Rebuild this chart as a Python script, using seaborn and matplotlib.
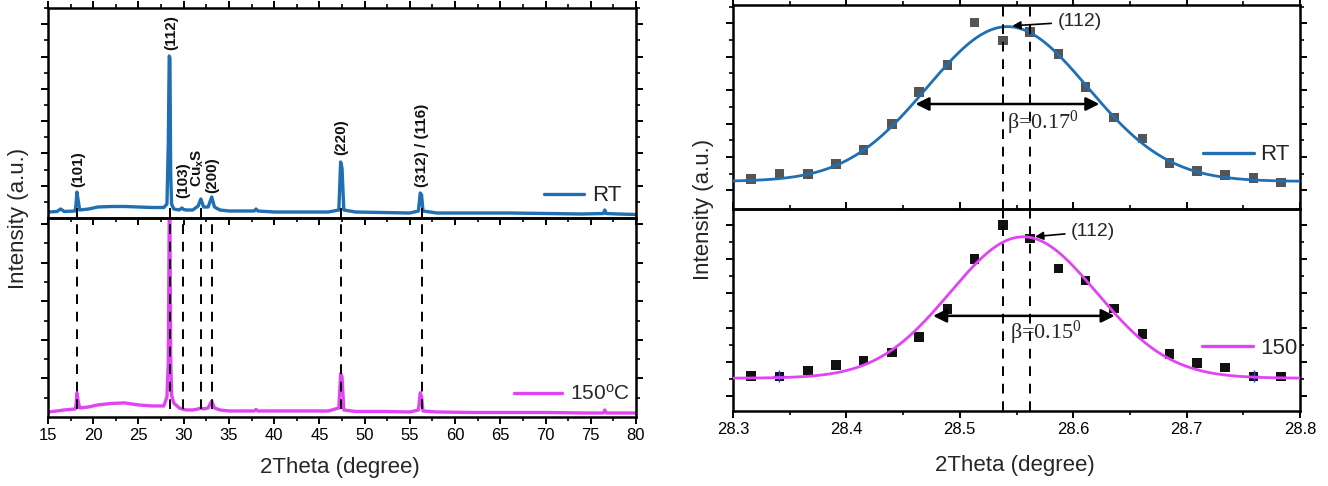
import numpy as np
import pandas as pd
import matplotlib
matplotlib.use("Agg")
import matplotlib.pyplot as plt
from matplotlib.ticker import MultipleLocator, FixedLocator
from matplotlib.lines import Line2D
import seaborn as sns

# ---------------- data: wide-range XRD patterns (left) ----------------
two_theta = [15.0, 16.0, 16.4, 16.8, 18.0, 18.1, 18.2, 18.33, 18.5, 19.5, 20.5, 22.0,
             23.5, 25.0, 26.5, 27.8, 28.15, 28.3, 28.4, 28.48, 28.56, 28.66, 28.9,
             29.5, 29.8, 30.0, 30.3, 31.0, 31.6, 31.9, 32.2, 32.7, 33.1, 33.4, 34.0,
             35.0, 37.8, 38.0, 38.2, 40.0, 43.0, 46.0, 47.15, 47.35, 47.5, 47.7, 49.0,
             52.0, 55.0, 55.95, 56.15, 56.3, 56.45, 58.0, 62.0, 66.0, 70.0, 74.0, 76.4,
             76.55, 76.7, 78.0, 80.0]
rt_intensity = [6.0, 6.5, 9.0, 6.5, 7.0, 14.0, 26.0, 18.0, 8.0, 9.0, 11.0, 11.5,
                11.5, 11.0, 10.5, 10.5, 14.0, 75.0, 162.0, 160.0, 45.0, 14.0, 9.0,
                8.0, 10.0, 8.5, 8.0, 8.0, 12.0, 19.0, 11.0, 11.0, 21.0, 11.0, 8.0,
                7.0, 7.0, 9.0, 7.0, 6.0, 6.0, 6.0, 8.0, 56.0, 50.0, 8.0, 6.0,
                5.5, 5.0, 7.0, 25.0, 23.0, 7.0, 5.0, 5.0, 5.0, 4.5, 4.0, 4.5,
                8.0, 4.5, 4.0, 3.5]
c150_intensity = [5.0, 6.0, 6.5, 7.0, 8.0, 12.0, 24.0, 16.0, 9.0, 10.0, 12.0, 13.5,
                  14.0, 12.0, 11.0, 11.0, 20.0, 55.0, 196.0, 196.0, 60.0, 22.0, 14.0,
                  9.0, 8.0, 7.5, 7.0, 7.0, 8.0, 9.0, 8.0, 9.0, 16.0, 9.0, 7.0,
                  6.0, 6.0, 7.5, 6.0, 6.0, 6.0, 6.0, 9.0, 43.0, 40.0, 7.0, 5.5,
                  5.5, 5.0, 7.0, 24.0, 20.0, 6.0, 5.0, 4.5, 4.5, 4.5, 4.0, 4.0,
                  7.0, 4.0, 4.0, 4.0]
ref_lines = [18.2, 28.5, 29.96, 31.9, 33.17, 47.4, 56.3]
rt_marks = [18.2, 28.5, 31.9, 47.4, 56.3]
peak_labels = ["(101)", "(112)", "(103)", r"Cu$\mathregular{_x}$S", "(200)", "(220)", "(312) / (116)"]
peak_label_x = [18.35, 28.65, 30.0, 31.6, 33.2, 47.4, 56.3]
peak_label_y = [31, 168, 20, 31, 25, 63, 31]

# ---------------- data: (112) peak close-up (right) ----------------
zoom_theta = [28.316, 28.341, 28.366, 28.391, 28.415, 28.440, 28.464, 28.489, 28.513, 28.538,
              28.562, 28.587, 28.611, 28.636, 28.661, 28.685, 28.709, 28.734, 28.759, 28.783]
zoom_rt = [90, 106, 106, 136, 178, 256, 351, 433, 560, 506,
           531, 465, 366, 275, 212, 139, 114, 103, 94, 80]
zoom_150 = [105, 103, 121, 138, 151, 175, 220, 305, 453, 556,
            515, 425, 390, 306, 230, 170, 143, 130, 103, 103]
err_theta = [28.341, 28.759]
err_150 = [103, 103]
# Gaussian fit parameters: centre, FWHM, height, baseline
fit_rt = [28.542, 0.167, 465, 83]
fit_150 = [28.556, 0.152, 422, 98]
fwhm_rt_text = "0.17"
fwhm_150_text = "0.15"
dashed_zoom = [28.538, 28.562]

BLUE = "#1f6fb2"
MAGENTA = "#e143f5"

sns.set_theme(style="ticks")
plt.rcParams["font.family"] = ["Liberation Sans", "DejaVu Sans"]
plt.rcParams["axes.edgecolor"] = "black"
plt.rcParams["xtick.color"] = "black"
plt.rcParams["ytick.color"] = "black"

W, H = 1328, 486
fig = plt.figure(figsize=(W / 100, H / 100), dpi=100)


def rect(x0, y0, x1, y1):
    return [x0 / W, 1 - y1 / H, (x1 - x0) / W, (y1 - y0) / H]


axL1 = fig.add_axes(rect(48, 8, 636, 218))
axL2 = fig.add_axes(rect(48, 218, 636, 417))
axR1 = fig.add_axes(rect(733, 5, 1300, 209))
axR2 = fig.add_axes(rect(733, 209, 1300, 411))

for ax in (axL1, axL2, axR1, axR2):
    ax.patch.set_alpha(0)
    for s in ax.spines.values():
        s.set_linewidth(1.8)
        s.set_color("black")
    ax.tick_params(which="major", length=5, width=1.4, labelsize=12, pad=3)
    ax.tick_params(which="minor", length=3, width=1.2)

# ---- left panels ----
df_wide = pd.DataFrame({"2theta": two_theta, "RT": rt_intensity, "150": c150_intensity})
sns.lineplot(data=df_wide, x="2theta", y="RT", ax=axL1, color=BLUE, lw=2.4,
             estimator=None, legend=False)
sns.lineplot(data=df_wide, x="2theta", y="150", ax=axL2, color=MAGENTA, lw=2.4,
             estimator=None, legend=False)

for ax in (axL1, axL2):
    ax.set_xlim(15, 80)
    ax.xaxis.set_major_locator(MultipleLocator(5))
    ax.xaxis.set_minor_locator(MultipleLocator(2.5))
    ax.set_xlabel("")
    ax.set_ylabel("")
    ax.tick_params(axis="y", which="both", left=True, right=True, labelleft=False, direction="out")

axL1.set_ylim(0, 210)
axL1.yaxis.set_major_locator(FixedLocator(np.arange(32.3, 210, 32.3)))
axL1.yaxis.set_minor_locator(FixedLocator(np.arange(16.15, 210, 32.3)))
axL1.tick_params(axis="x", which="both", top=True, bottom=True, labelbottom=False, direction="out")

axL2.set_ylim(0, 198)
axL2.yaxis.set_major_locator(FixedLocator(np.arange(38.4, 198, 38.4)))
axL2.yaxis.set_minor_locator(FixedLocator(np.arange(19.2, 198, 38.4)))
axL2.tick_params(axis="x", which="both", top=False, bottom=True, labelbottom=True, direction="out")

axL2.vlines(ref_lines, 8, 198, colors="black", linestyles=(0, (5, 4)), lw=1.4, zorder=5)
axL1.vlines(rt_marks, 0, 10, colors="black", lw=1.4, zorder=5)

for lab, x, y in zip(peak_labels, peak_label_x, peak_label_y):
    axL1.text(x, y, lab, rotation=90, ha="center", va="bottom", fontsize=11,
              fontweight="bold", color="#111111", linespacing=1.0)

axL1.legend(handles=[Line2D([], [], color=BLUE, lw=2.4)], labels=["RT"], loc="center right",
            bbox_to_anchor=(0.976, 0.105), frameon=False, fontsize=16, handlelength=1.8,
            handletextpad=0.4, borderpad=0, borderaxespad=0)
axL2.legend(handles=[Line2D([], [], color=MAGENTA, lw=2.4)], labels=[r"150$\mathregular{^o}$C"],
            loc="center right", bbox_to_anchor=(0.99, 0.116), frameon=False, fontsize=15,
            handlelength=2.3, handletextpad=0.4, borderpad=0, borderaxespad=0)

# ---- right panels ----
grid = np.linspace(28.3, 28.8, 400)


def gauss(p):
    c, fw, h, b = p
    s = fw / 2.3548
    return b + h * np.exp(-0.5 * ((grid - c) / s) ** 2)


df_fit = pd.DataFrame({"x": grid, "rt": gauss(fit_rt), "c150": gauss(fit_150)})
df_pts = pd.DataFrame({"x": zoom_theta, "rt": zoom_rt, "c150": zoom_150})

sns.scatterplot(data=df_pts, x="x", y="rt", ax=axR1, marker="s", s=48, color="#555555",
                edgecolor="none", zorder=3, legend=False)
sns.lineplot(data=df_fit, x="x", y="rt", ax=axR1, color=BLUE, lw=2.0, estimator=None,
             zorder=4, legend=False)
sns.scatterplot(data=df_pts, x="x", y="c150", ax=axR2, marker="s", s=48, color="#111111",
                edgecolor="none", zorder=3, legend=False)
sns.scatterplot(x=err_theta, y=err_150, ax=axR2, marker="+", s=70, color="#2040ff",
                linewidth=1.0, zorder=4, legend=False)
sns.lineplot(data=df_fit, x="x", y="c150", ax=axR2, color=MAGENTA, lw=2.0, estimator=None,
             zorder=4, legend=False)

for ax in (axR1, axR2):
    ax.set_xlim(28.3, 28.8)
    ax.xaxis.set_major_locator(MultipleLocator(0.1))
    ax.xaxis.set_minor_locator(MultipleLocator(0.05))
    ax.set_xlabel("")
    ax.set_ylabel("")
    ax.tick_params(axis="y", which="both", left=True, right=True, labelleft=False, direction="out")
    for xv in dashed_zoom:
        ax.axvline(xv, color="black", ls=(0, (5, 4)), lw=1.4, zorder=5)

axR1.set_ylim(0, 613)
axR1.yaxis.set_major_locator(FixedLocator(np.arange(56, 613, 100.4)))
axR1.yaxis.set_minor_locator(FixedLocator(np.arange(106.2, 613, 100.4)))
axR1.tick_params(axis="x", which="both", top=True, bottom=False, labelbottom=False, direction="out")

axR2.set_ylim(0, 603)
axR2.yaxis.set_major_locator(FixedLocator(np.arange(45, 603, 102)))
axR2.yaxis.set_minor_locator(FixedLocator(np.arange(96, 603, 102)))
axR2.tick_params(axis="x", which="both", top=True, bottom=True, labelbottom=True, direction="out")

arrow_kw = dict(arrowstyle="-|>", color="black", lw=1.2, mutation_scale=12)
axR1.annotate("(112)", xy=(28.544, 550), xytext=(28.586, 563), fontsize=14,
              va="center", ha="left", arrowprops=arrow_kw, zorder=6)
axR2.annotate("(112)", xy=(28.564, 520), xytext=(28.598, 536), fontsize=14,
              va="center", ha="left", arrowprops=arrow_kw, zorder=6)

dbl = dict(arrowstyle="<|-|>", color="black", lw=1.8, mutation_scale=20)
half_rt = fit_rt[3] + fit_rt[2] / 2
axR1.annotate("", xy=(fit_rt[0] - fit_rt[1] / 2, half_rt), xytext=(fit_rt[0] + fit_rt[1] / 2, half_rt),
              arrowprops=dbl, zorder=6)
axR2.annotate("", xy=(28.474, 284), xytext=(28.639, 284), arrowprops=dbl, zorder=6)

serif = ["Liberation Serif", "DejaVu Serif"]
axR1.text(28.542, 258, "β=" + fwhm_rt_text + r"$\mathregular{^0}$", family=serif, fontsize=16,
          va="center", ha="left", zorder=6)
axR2.text(28.544, 233, "β=" + fwhm_150_text + r"$\mathregular{^0}$", family=serif, fontsize=16,
          va="center", ha="left", zorder=6)

axR1.legend(handles=[Line2D([], [], color=BLUE, lw=2.4)], labels=["RT"], loc="center right",
            bbox_to_anchor=(0.982, 0.265), frameon=False, fontsize=16, handlelength=2.3,
            handletextpad=0.3, borderpad=0, borderaxespad=0)
axR2.legend(handles=[Line2D([], [], color=MAGENTA, lw=2.4)], labels=["150"], loc="center right",
            bbox_to_anchor=(0.995, 0.31), frameon=False, fontsize=16, handlelength=2.3,
            handletextpad=0.3, borderpad=0, borderaxespad=0)

# ---- axis titles ----
fig.text(340 / W, 1 - 467 / H, "2Theta (degree)", ha="center", va="center", fontsize=16)
fig.text(1015 / W, 1 - 465 / H, "2Theta (degree)", ha="center", va="center", fontsize=16)
fig.text(19 / W, 1 - 218 / H, "Intensity (a.u.)", rotation=90, ha="center", va="center", fontsize=16)
fig.text(703 / W, 1 - 209 / H, "Intensity (a.u.)", rotation=90, ha="center", va="center", fontsize=16)

fig.savefig("out.png", dpi=100)
